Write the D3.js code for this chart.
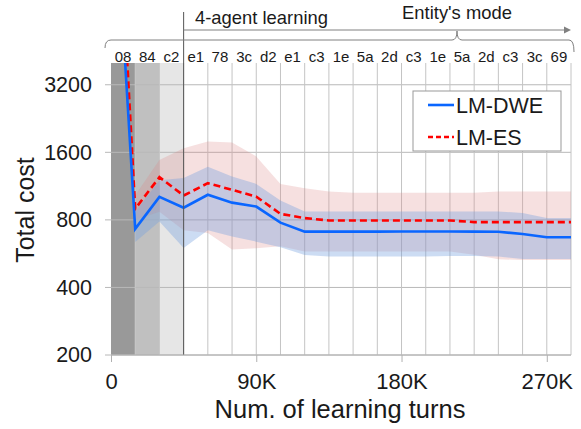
<!DOCTYPE html>
<html lang="en">
<head>
  <meta charset="UTF-8">
  <title>Total cost vs learning turns</title>
  <style>
  html, body { margin: 0; padding: 0; background: #fff; }
  #chart text { font-family: "Liberation Sans", Arial, sans-serif; fill: #1a1a1a; }
  </style>
</head>
<body>
  <div id="chart"></div>
  <script src="https://cdn.jsdelivr.net/npm/d3@7"></script>
  <script>
    // learning turns (x), one point per column boundary
    const turns = [0, 15000, 30000, 45000, 60000, 75000, 90000, 105000, 120000, 135000,
      150000, 165000, 180000, 195000, 210000, 225000, 240000, 255000, 270000, 285000];
    // entity ids shown above each column
    const colLabels = ['08', '84', 'c2', 'e1', '78', '3c', 'd2', 'e1', 'c3', '1e',
      '5a', '2d', 'c3', '1e', '5a', '2d', 'c3', '3c', '69'];

    const dweMean = [44000, 730, 1013, 906, 1035, 955, 917, 778, 709, 709,
      709, 709, 710, 710, 710, 709, 708, 692, 669, 669];
    const dweHigh = [null, 870, 1200, 1230, 1380, 1248, 1157, 975, 872, 872,
      872, 872, 872, 872, 872, 872, 872, 858, 816, 816];
    const dweLow = [null, 637, 787, 600, 720, 674, 640, 604, 558, 549,
      549, 549, 549, 549, 552, 552, 549, 535, 535, 535];

    const esMean = [87000, 896, 1240, 1027, 1166, 1089, 1016, 851, 815, 795,
      795, 795, 795, 795, 795, 782, 782, 782, 782, 782];
    const esHigh = [null, 1030, 1480, 1670, 1790, 1769, 1534, 1157, 1108, 1070,
      1058, 1058, 1058, 1058, 1058, 1058, 1070, 1070, 1070, 1070];
    const esLow = [null, 800, 870, 720, 700, 590, 598, 610, 578, 578,
      578, 578, 578, 578, 578, 560, 534, 530, 530, 530];

    const yTicks = [200, 400, 800, 1600, 3200];
    const xTicks = [0, 90000, 180000, 270000];
    const phaseShades = ['#999999', '#c0c0c0', '#e6e6e6'];

    const W = 581, H = 429;
    const svg = d3.select('#chart').append('svg').attr('width', W).attr('height', H);

    const x = d3.scaleLinear().domain([0, 285000]).range([111, 571]);
    const y = d3.scaleLog().base(2).domain([200, 4000]).range([355, 63]);

    svg.append('defs').append('clipPath').attr('id', 'plot')
      .append('rect').attr('x', x(0)).attr('y', y(4000))
      .attr('width', x(285000) - x(0)).attr('height', y(200) - y(4000));

    // shaded warm-up columns
    svg.append('g').selectAll('rect').data(phaseShades).join('rect')
      .attr('x', (d, i) => x(turns[i]))
      .attr('y', y(4000))
      .attr('width', (d, i) => x(turns[i + 1]) - x(turns[i]))
      .attr('height', y(200) - y(4000))
      .attr('fill', d => d);

    // grid
    svg.append('g').selectAll('line').data(yTicks).join('line')
      .attr('x1', x(0) - 6).attr('x2', x(285000))
      .attr('y1', d => y(d)).attr('y2', d => y(d))
      .attr('stroke', '#b8b8b8').attr('stroke-width', 1);
    svg.append('g').selectAll('line').data(turns.slice(1)).join('line')
      .attr('x1', d => x(d)).attr('x2', d => x(d))
      .attr('y1', y(4000)).attr('y2', y(200))
      .attr('stroke', '#c4c4c4').attr('stroke-width', 1);

    // bands
    const band = (lo, hi) => d3.area()
      .defined((d, i) => lo[i] != null)
      .x(d => x(d))
      .y0((d, i) => y(lo[i]))
      .y1((d, i) => y(hi[i]));
    const plot = svg.append('g').attr('clip-path', 'url(#plot)');
    plot.append('path').datum(turns).attr('d', band(esLow, esHigh))
      .attr('fill', 'rgb(220,130,130)').attr('fill-opacity', 0.25);
    plot.append('path').datum(turns).attr('d', band(dweLow, dweHigh))
      .attr('fill', 'rgb(115,158,222)').attr('fill-opacity', 0.36);

    // 4-agent separator
    svg.append('line')
      .attr('x1', x(45000)).attr('x2', x(45000))
      .attr('y1', 12).attr('y2', y(200))
      .attr('stroke', '#555').attr('stroke-width', 1);

    // mean lines
    const line = vals => d3.line().x(d => x(d)).y((d, i) => y(vals[i]));
    plot.append('path').datum(turns).attr('d', line(esMean))
      .attr('fill', 'none').attr('stroke', '#ff0000').attr('stroke-width', 2.6)
      .attr('stroke-dasharray', '7,4');
    plot.append('path').datum(turns).attr('d', line(dweMean))
      .attr('fill', 'none').attr('stroke', '#0a66ff').attr('stroke-width', 2.6);

    // axes
    const yAxis = svg.append('g').attr('transform', `translate(${x(0) - 6},0)`)
      .call(d3.axisLeft(y).tickValues(yTicks).tickSize(0).tickPadding(13).tickFormat(d3.format('d')));
    yAxis.select('.domain').remove();
    yAxis.selectAll('text').attr('font-size', 21.5);

    svg.append('line').attr('x1', x(0)).attr('x2', x(285000))
      .attr('y1', y(200)).attr('y2', y(200)).attr('stroke', '#b0b0b0');
    const xAxis = svg.append('g').attr('transform', `translate(0,${y(200)})`)
      .call(d3.axisBottom(x).tickValues(xTicks).tickSize(7).tickPadding(11)
        .tickFormat(d => d === 0 ? '0' : (d / 1000) + 'K'));
    xAxis.select('.domain').remove();
    xAxis.selectAll('line').attr('stroke', '#b0b0b0');
    xAxis.selectAll('text').attr('font-size', 22);

    svg.append('text').attr('x', 340).attr('y', 418).attr('text-anchor', 'middle')
      .attr('font-size', 25.5).text('Num. of learning turns');
    svg.append('text').attr('transform', `translate(34,${210}) rotate(-90)`)
      .attr('text-anchor', 'middle').attr('font-size', 25).text('Total cost');

    // column labels
    svg.append('g').selectAll('text').data(colLabels).join('text')
      .attr('x', (d, i) => (x(turns[i]) + x(turns[i + 1])) / 2)
      .attr('y', 62).attr('text-anchor', 'middle').attr('font-size', 15)
      .text(d => d);

    // top annotations
    const ann = svg.append('g').attr('fill', 'none').attr('stroke', '#808080').attr('stroke-width', 1);
    const bx0 = x(0) - 6, bx1 = x(285000) + 3, bm = 457;
    ann.append('path').attr('d',
      `M${bx0},48 Q${bx0},40 ${bx0 + 6},40 L${bm - 5},40 Q${bm},40 ${bm},31 Q${bm},40 ${bm + 5},40 ` +
      `L${bx1 - 5},40 Q${bx1},40 ${bx1},52`);
    ann.append('line').attr('x1', x(45000)).attr('x2', 566).attr('y1', 30).attr('y2', 30);
    svg.append('path').attr('d', 'M571,30 L564,26.5 L564,33.5 Z').attr('fill', '#808080');
    svg.append('text').attr('x', 195).attr('y', 24).attr('font-size', 18.4).text('4-agent learning');
    svg.append('text').attr('x', bm).attr('y', 19).attr('text-anchor', 'middle')
      .attr('font-size', 18.4).text("Entity's mode");

    // legend
    const lg = svg.append('g').attr('transform', 'translate(413,91)');
    lg.append('rect').attr('width', 148).attr('height', 60)
      .attr('fill', '#fff').attr('stroke', '#999');
    const items = [
      {name: 'LM-DWE', color: '#0a66ff', dash: null},
      {name: 'LM-ES', color: '#ff0000', dash: '5,3'},
    ];
    const li = lg.selectAll('g').data(items).join('g')
      .attr('transform', (d, i) => `translate(0,${14 + i * 32})`);
    li.append('line').attr('x1', 15).attr('x2', 41)
      .attr('stroke', d => d.color).attr('stroke-width', 2.6)
      .attr('stroke-dasharray', d => d.dash);
    li.append('text').attr('x', 43).attr('y', 8).attr('font-size', 21.5).text(d => d.name);
  </script>
</body>
</html>
